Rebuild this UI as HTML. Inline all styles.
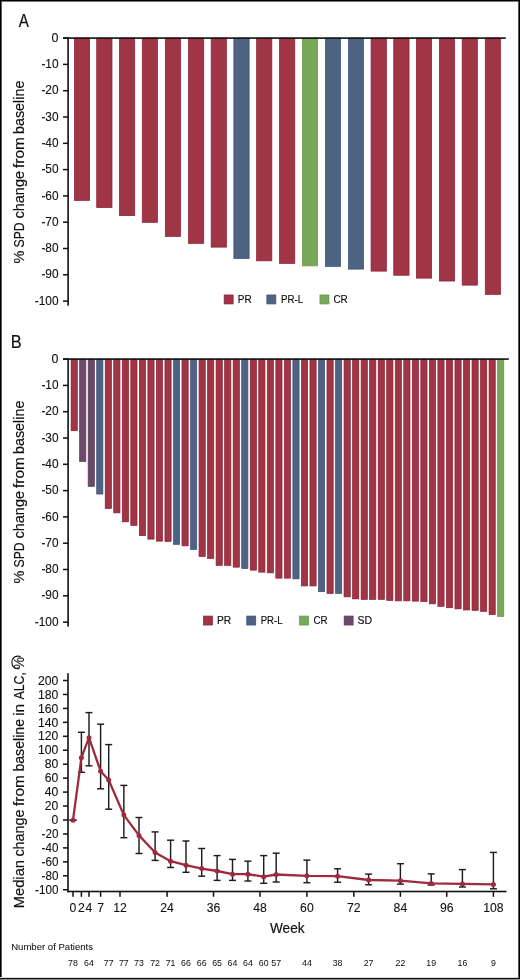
<!DOCTYPE html>
<html><head><meta charset="utf-8"><title>Figure</title>
<style>
html,body{margin:0;padding:0;background:#fff;}
body{width:520px;height:980px;overflow:hidden;position:relative;}
.b{position:absolute;}
svg{position:absolute;left:0;top:0;will-change:transform;}
text{font-family:"Liberation Sans",sans-serif;fill:#111;stroke:#111;stroke-width:0.2px;}
</style></head>
<body>
<svg width="520" height="980" viewBox="0 0 520 980">
<rect x="74.35" y="38.10" width="15.30" height="162.30" fill="#a03545" stroke="#8e1d33" stroke-width="0.7"/>
<rect x="96.70" y="38.10" width="15.30" height="169.45" fill="#a03545" stroke="#8e1d33" stroke-width="0.7"/>
<rect x="119.40" y="38.10" width="15.30" height="177.55" fill="#a03545" stroke="#8e1d33" stroke-width="0.7"/>
<rect x="142.25" y="38.10" width="15.30" height="184.25" fill="#a03545" stroke="#8e1d33" stroke-width="0.7"/>
<rect x="165.30" y="38.10" width="15.30" height="198.25" fill="#a03545" stroke="#8e1d33" stroke-width="0.7"/>
<rect x="188.45" y="38.10" width="15.30" height="205.25" fill="#a03545" stroke="#8e1d33" stroke-width="0.7"/>
<rect x="211.15" y="38.10" width="15.30" height="209.05" fill="#a03545" stroke="#8e1d33" stroke-width="0.7"/>
<rect x="233.85" y="38.10" width="15.30" height="220.55" fill="#4d6381" stroke="#3b5277" stroke-width="0.7"/>
<rect x="256.55" y="38.10" width="15.30" height="222.75" fill="#a03545" stroke="#8e1d33" stroke-width="0.7"/>
<rect x="279.50" y="38.10" width="15.30" height="225.35" fill="#a03545" stroke="#8e1d33" stroke-width="0.7"/>
<rect x="302.35" y="38.10" width="15.30" height="227.75" fill="#79a85b" stroke="#619449" stroke-width="0.7"/>
<rect x="325.35" y="38.10" width="15.30" height="228.35" fill="#4d6381" stroke="#3b5277" stroke-width="0.7"/>
<rect x="348.35" y="38.10" width="15.30" height="231.05" fill="#4d6381" stroke="#3b5277" stroke-width="0.7"/>
<rect x="371.05" y="38.10" width="15.30" height="233.05" fill="#a03545" stroke="#8e1d33" stroke-width="0.7"/>
<rect x="393.75" y="38.10" width="15.30" height="237.15" fill="#a03545" stroke="#8e1d33" stroke-width="0.7"/>
<rect x="416.35" y="38.10" width="15.30" height="240.05" fill="#a03545" stroke="#8e1d33" stroke-width="0.7"/>
<rect x="439.35" y="38.10" width="15.30" height="242.95" fill="#a03545" stroke="#8e1d33" stroke-width="0.7"/>
<rect x="462.15" y="38.10" width="15.30" height="247.05" fill="#a03545" stroke="#8e1d33" stroke-width="0.7"/>
<rect x="485.25" y="38.10" width="15.30" height="256.25" fill="#a03545" stroke="#8e1d33" stroke-width="0.7"/>
<rect x="63" y="37.30" width="442.80" height="1.6" fill="#111"/>
<rect x="67.3" y="37.30" width="1.6" height="268.40" fill="#111"/>
<rect x="63" y="37.35" width="5" height="1.5" fill="#111"/>
<text x="58.5" y="41.75" font-size="12.4" text-anchor="end" style="stroke-width:0.12px">0</text>
<rect x="63" y="63.65" width="5" height="1.5" fill="#111"/>
<text x="58.5" y="68.05" font-size="12.4" text-anchor="end" textLength="17.12" lengthAdjust="spacingAndGlyphs" style="stroke-width:0.12px">-10</text>
<rect x="63" y="89.95" width="5" height="1.5" fill="#111"/>
<text x="58.5" y="94.35" font-size="12.4" text-anchor="end" textLength="17.12" lengthAdjust="spacingAndGlyphs" style="stroke-width:0.12px">-20</text>
<rect x="63" y="116.25" width="5" height="1.5" fill="#111"/>
<text x="58.5" y="120.65" font-size="12.4" text-anchor="end" textLength="17.12" lengthAdjust="spacingAndGlyphs" style="stroke-width:0.12px">-30</text>
<rect x="63" y="142.55" width="5" height="1.5" fill="#111"/>
<text x="58.5" y="146.95" font-size="12.4" text-anchor="end" textLength="17.12" lengthAdjust="spacingAndGlyphs" style="stroke-width:0.12px">-40</text>
<rect x="63" y="168.85" width="5" height="1.5" fill="#111"/>
<text x="58.5" y="173.25" font-size="12.4" text-anchor="end" textLength="17.12" lengthAdjust="spacingAndGlyphs" style="stroke-width:0.12px">-50</text>
<rect x="63" y="195.15" width="5" height="1.5" fill="#111"/>
<text x="58.5" y="199.55" font-size="12.4" text-anchor="end" textLength="17.12" lengthAdjust="spacingAndGlyphs" style="stroke-width:0.12px">-60</text>
<rect x="63" y="221.45" width="5" height="1.5" fill="#111"/>
<text x="58.5" y="225.85" font-size="12.4" text-anchor="end" textLength="17.12" lengthAdjust="spacingAndGlyphs" style="stroke-width:0.12px">-70</text>
<rect x="63" y="247.75" width="5" height="1.5" fill="#111"/>
<text x="58.5" y="252.15" font-size="12.4" text-anchor="end" textLength="17.12" lengthAdjust="spacingAndGlyphs" style="stroke-width:0.12px">-80</text>
<rect x="63" y="274.05" width="5" height="1.5" fill="#111"/>
<text x="58.5" y="278.45" font-size="12.4" text-anchor="end" textLength="17.12" lengthAdjust="spacingAndGlyphs" style="stroke-width:0.12px">-90</text>
<rect x="63" y="300.35" width="5" height="1.5" fill="#111"/>
<text x="58.5" y="304.75" font-size="12.4" text-anchor="end" textLength="23.7" lengthAdjust="spacingAndGlyphs" style="stroke-width:0.12px">-100</text>
<rect x="71.10" y="359.10" width="6.20" height="71.55" fill="#a03545" stroke="#8e1d33" stroke-width="0.7"/>
<rect x="79.63" y="359.10" width="6.20" height="102.35" fill="#6a4a6b" stroke="#583859" stroke-width="0.7"/>
<rect x="88.16" y="359.10" width="6.20" height="127.25" fill="#6a4a6b" stroke="#583859" stroke-width="0.7"/>
<rect x="96.69" y="359.10" width="6.20" height="134.95" fill="#4d6381" stroke="#3b5277" stroke-width="0.7"/>
<rect x="105.22" y="359.10" width="6.20" height="149.35" fill="#a03545" stroke="#8e1d33" stroke-width="0.7"/>
<rect x="113.75" y="359.10" width="6.20" height="153.75" fill="#a03545" stroke="#8e1d33" stroke-width="0.7"/>
<rect x="122.28" y="359.10" width="6.20" height="162.75" fill="#a03545" stroke="#8e1d33" stroke-width="0.7"/>
<rect x="130.81" y="359.10" width="6.20" height="166.35" fill="#a03545" stroke="#8e1d33" stroke-width="0.7"/>
<rect x="139.34" y="359.10" width="6.20" height="176.55" fill="#a03545" stroke="#8e1d33" stroke-width="0.7"/>
<rect x="147.87" y="359.10" width="6.20" height="180.05" fill="#a03545" stroke="#8e1d33" stroke-width="0.7"/>
<rect x="156.40" y="359.10" width="6.20" height="182.05" fill="#a03545" stroke="#8e1d33" stroke-width="0.7"/>
<rect x="164.93" y="359.10" width="6.20" height="182.35" fill="#a03545" stroke="#8e1d33" stroke-width="0.7"/>
<rect x="173.46" y="359.10" width="6.20" height="185.25" fill="#4d6381" stroke="#3b5277" stroke-width="0.7"/>
<rect x="181.99" y="359.10" width="6.20" height="186.75" fill="#a03545" stroke="#8e1d33" stroke-width="0.7"/>
<rect x="190.52" y="359.10" width="6.20" height="190.25" fill="#4d6381" stroke="#3b5277" stroke-width="0.7"/>
<rect x="199.05" y="359.10" width="6.20" height="197.45" fill="#a03545" stroke="#8e1d33" stroke-width="0.7"/>
<rect x="207.58" y="359.10" width="6.20" height="199.35" fill="#a03545" stroke="#8e1d33" stroke-width="0.7"/>
<rect x="216.11" y="359.10" width="6.20" height="206.25" fill="#a03545" stroke="#8e1d33" stroke-width="0.7"/>
<rect x="224.64" y="359.10" width="6.20" height="206.35" fill="#a03545" stroke="#8e1d33" stroke-width="0.7"/>
<rect x="233.17" y="359.10" width="6.20" height="208.05" fill="#a03545" stroke="#8e1d33" stroke-width="0.7"/>
<rect x="241.70" y="359.10" width="6.20" height="209.45" fill="#4d6381" stroke="#3b5277" stroke-width="0.7"/>
<rect x="250.23" y="359.10" width="6.20" height="211.05" fill="#a03545" stroke="#8e1d33" stroke-width="0.7"/>
<rect x="258.76" y="359.10" width="6.20" height="213.05" fill="#a03545" stroke="#8e1d33" stroke-width="0.7"/>
<rect x="267.29" y="359.10" width="6.20" height="213.75" fill="#a03545" stroke="#8e1d33" stroke-width="0.7"/>
<rect x="275.82" y="359.10" width="6.20" height="219.05" fill="#a03545" stroke="#8e1d33" stroke-width="0.7"/>
<rect x="284.35" y="359.10" width="6.20" height="219.05" fill="#a03545" stroke="#8e1d33" stroke-width="0.7"/>
<rect x="292.88" y="359.10" width="6.20" height="219.75" fill="#4d6381" stroke="#3b5277" stroke-width="0.7"/>
<rect x="301.41" y="359.10" width="6.20" height="226.85" fill="#a03545" stroke="#8e1d33" stroke-width="0.7"/>
<rect x="309.94" y="359.10" width="6.20" height="226.85" fill="#a03545" stroke="#8e1d33" stroke-width="0.7"/>
<rect x="318.47" y="359.10" width="6.20" height="232.55" fill="#4d6381" stroke="#3b5277" stroke-width="0.7"/>
<rect x="327.00" y="359.10" width="6.20" height="234.35" fill="#a03545" stroke="#8e1d33" stroke-width="0.7"/>
<rect x="335.53" y="359.10" width="6.20" height="234.35" fill="#4d6381" stroke="#3b5277" stroke-width="0.7"/>
<rect x="344.06" y="359.10" width="6.20" height="237.75" fill="#a03545" stroke="#8e1d33" stroke-width="0.7"/>
<rect x="352.59" y="359.10" width="6.20" height="239.75" fill="#a03545" stroke="#8e1d33" stroke-width="0.7"/>
<rect x="361.12" y="359.10" width="6.20" height="240.25" fill="#a03545" stroke="#8e1d33" stroke-width="0.7"/>
<rect x="369.65" y="359.10" width="6.20" height="240.25" fill="#a03545" stroke="#8e1d33" stroke-width="0.7"/>
<rect x="378.18" y="359.10" width="6.20" height="240.25" fill="#a03545" stroke="#8e1d33" stroke-width="0.7"/>
<rect x="386.71" y="359.10" width="6.20" height="241.35" fill="#a03545" stroke="#8e1d33" stroke-width="0.7"/>
<rect x="395.24" y="359.10" width="6.20" height="241.75" fill="#a03545" stroke="#8e1d33" stroke-width="0.7"/>
<rect x="403.77" y="359.10" width="6.20" height="241.75" fill="#a03545" stroke="#8e1d33" stroke-width="0.7"/>
<rect x="412.30" y="359.10" width="6.20" height="242.05" fill="#a03545" stroke="#8e1d33" stroke-width="0.7"/>
<rect x="420.83" y="359.10" width="6.20" height="242.55" fill="#a03545" stroke="#8e1d33" stroke-width="0.7"/>
<rect x="429.36" y="359.10" width="6.20" height="244.75" fill="#a03545" stroke="#8e1d33" stroke-width="0.7"/>
<rect x="437.89" y="359.10" width="6.20" height="247.25" fill="#a03545" stroke="#8e1d33" stroke-width="0.7"/>
<rect x="446.42" y="359.10" width="6.20" height="248.65" fill="#a03545" stroke="#8e1d33" stroke-width="0.7"/>
<rect x="454.95" y="359.10" width="6.20" height="249.75" fill="#a03545" stroke="#8e1d33" stroke-width="0.7"/>
<rect x="463.48" y="359.10" width="6.20" height="250.85" fill="#a03545" stroke="#8e1d33" stroke-width="0.7"/>
<rect x="472.01" y="359.10" width="6.20" height="251.35" fill="#a03545" stroke="#8e1d33" stroke-width="0.7"/>
<rect x="480.54" y="359.10" width="6.20" height="252.25" fill="#a03545" stroke="#8e1d33" stroke-width="0.7"/>
<rect x="489.07" y="359.10" width="6.20" height="255.45" fill="#a03545" stroke="#8e1d33" stroke-width="0.7"/>
<rect x="497.60" y="359.10" width="6.20" height="257.45" fill="#79a85b" stroke="#619449" stroke-width="0.7"/>
<rect x="63" y="358.30" width="445.80" height="1.6" fill="#111"/>
<rect x="67.3" y="358.30" width="1.6" height="268.40" fill="#111"/>
<rect x="63" y="358.35" width="5" height="1.5" fill="#111"/>
<text x="58.5" y="362.75" font-size="12.4" text-anchor="end" style="stroke-width:0.12px">0</text>
<rect x="63" y="384.65" width="5" height="1.5" fill="#111"/>
<text x="58.5" y="389.05" font-size="12.4" text-anchor="end" textLength="17.12" lengthAdjust="spacingAndGlyphs" style="stroke-width:0.12px">-10</text>
<rect x="63" y="410.95" width="5" height="1.5" fill="#111"/>
<text x="58.5" y="415.35" font-size="12.4" text-anchor="end" textLength="17.12" lengthAdjust="spacingAndGlyphs" style="stroke-width:0.12px">-20</text>
<rect x="63" y="437.25" width="5" height="1.5" fill="#111"/>
<text x="58.5" y="441.65" font-size="12.4" text-anchor="end" textLength="17.12" lengthAdjust="spacingAndGlyphs" style="stroke-width:0.12px">-30</text>
<rect x="63" y="463.55" width="5" height="1.5" fill="#111"/>
<text x="58.5" y="467.95" font-size="12.4" text-anchor="end" textLength="17.12" lengthAdjust="spacingAndGlyphs" style="stroke-width:0.12px">-40</text>
<rect x="63" y="489.85" width="5" height="1.5" fill="#111"/>
<text x="58.5" y="494.25" font-size="12.4" text-anchor="end" textLength="17.12" lengthAdjust="spacingAndGlyphs" style="stroke-width:0.12px">-50</text>
<rect x="63" y="516.15" width="5" height="1.5" fill="#111"/>
<text x="58.5" y="520.55" font-size="12.4" text-anchor="end" textLength="17.12" lengthAdjust="spacingAndGlyphs" style="stroke-width:0.12px">-60</text>
<rect x="63" y="542.45" width="5" height="1.5" fill="#111"/>
<text x="58.5" y="546.85" font-size="12.4" text-anchor="end" textLength="17.12" lengthAdjust="spacingAndGlyphs" style="stroke-width:0.12px">-70</text>
<rect x="63" y="568.75" width="5" height="1.5" fill="#111"/>
<text x="58.5" y="573.15" font-size="12.4" text-anchor="end" textLength="17.12" lengthAdjust="spacingAndGlyphs" style="stroke-width:0.12px">-80</text>
<rect x="63" y="595.05" width="5" height="1.5" fill="#111"/>
<text x="58.5" y="599.45" font-size="12.4" text-anchor="end" textLength="17.12" lengthAdjust="spacingAndGlyphs" style="stroke-width:0.12px">-90</text>
<rect x="63" y="621.35" width="5" height="1.5" fill="#111"/>
<text x="58.5" y="625.75" font-size="12.4" text-anchor="end" textLength="23.7" lengthAdjust="spacingAndGlyphs" style="stroke-width:0.12px">-100</text>
<text transform="translate(24.0,263.62) rotate(-90)" x="0" y="0" font-size="15.2" textLength="12.94" lengthAdjust="spacingAndGlyphs">%</text>
<text transform="translate(24.0,247.46) rotate(-90)" x="0" y="0" font-size="15.2" textLength="25.15" lengthAdjust="spacingAndGlyphs">SPD</text>
<text transform="translate(24.0,218.41) rotate(-90)" x="0" y="0" font-size="15.2" textLength="47.34" lengthAdjust="spacingAndGlyphs">change</text>
<text transform="translate(24.0,168.02) rotate(-90)" x="0" y="0" font-size="15.2" textLength="30.83" lengthAdjust="spacingAndGlyphs">from</text>
<text transform="translate(24.0,133.93) rotate(-90)" x="0" y="0" font-size="15.2" textLength="53.26" lengthAdjust="spacingAndGlyphs">baseline</text>
<text transform="translate(24.0,583.62) rotate(-90)" x="0" y="0" font-size="15.2" textLength="12.94" lengthAdjust="spacingAndGlyphs">%</text>
<text transform="translate(24.0,567.46) rotate(-90)" x="0" y="0" font-size="15.2" textLength="25.15" lengthAdjust="spacingAndGlyphs">SPD</text>
<text transform="translate(24.0,538.41) rotate(-90)" x="0" y="0" font-size="15.2" textLength="47.34" lengthAdjust="spacingAndGlyphs">change</text>
<text transform="translate(24.0,488.02) rotate(-90)" x="0" y="0" font-size="15.2" textLength="30.83" lengthAdjust="spacingAndGlyphs">from</text>
<text transform="translate(24.0,453.93) rotate(-90)" x="0" y="0" font-size="15.2" textLength="53.26" lengthAdjust="spacingAndGlyphs">baseline</text>
<text transform="translate(24.0,908.31) rotate(-90)" x="0" y="0" font-size="15.4" textLength="48.36" lengthAdjust="spacingAndGlyphs">Median</text>
<text transform="translate(24.0,856.60) rotate(-90)" x="0" y="0" font-size="15.4" textLength="47.13" lengthAdjust="spacingAndGlyphs">change</text>
<text transform="translate(24.0,805.92) rotate(-90)" x="0" y="0" font-size="15.4" textLength="30.73" lengthAdjust="spacingAndGlyphs">from</text>
<text transform="translate(24.0,771.62) rotate(-90)" x="0" y="0" font-size="15.4" textLength="52.64" lengthAdjust="spacingAndGlyphs">baseline</text>
<text transform="translate(24.0,715.83) rotate(-90)" x="0" y="0" font-size="15.4" textLength="11.93" lengthAdjust="spacingAndGlyphs">in</text>
<text transform="translate(24.0,699.62) rotate(-90)" x="0" y="0" font-size="15.4" textLength="27.65" lengthAdjust="spacingAndGlyphs">ALC,</text>
<text x="18.87" y="26.6" font-size="18.4" textLength="10.16" lengthAdjust="spacingAndGlyphs" >A</text>
<text x="10.76" y="347.8" font-size="18.4" textLength="10.91" lengthAdjust="spacingAndGlyphs" >B</text>
<rect x="224.15" y="294.95" width="9.0" height="9.0" fill="#a03545" stroke="#8e1d33" stroke-width="0.7"/>
<text x="237.78" y="302.7" font-size="11.6" textLength="13.89" lengthAdjust="spacingAndGlyphs" >PR</text>
<rect x="266.85" y="294.95" width="9.0" height="9.0" fill="#4d6381" stroke="#3b5277" stroke-width="0.7"/>
<text x="281.10" y="302.7" font-size="11.6" textLength="22.12" lengthAdjust="spacingAndGlyphs" >PR-L</text>
<rect x="319.95" y="294.95" width="9.0" height="9.0" fill="#79a85b" stroke="#619449" stroke-width="0.7"/>
<text x="333.39" y="302.7" font-size="11.6" textLength="14.38" lengthAdjust="spacingAndGlyphs" >CR</text>
<rect x="203.45" y="616.05" width="9.0" height="9.0" fill="#a03545" stroke="#8e1d33" stroke-width="0.7"/>
<text x="217.06" y="623.9" font-size="11.6" textLength="14.22" lengthAdjust="spacingAndGlyphs" >PR</text>
<rect x="246.75" y="616.05" width="9.0" height="9.0" fill="#4d6381" stroke="#3b5277" stroke-width="0.7"/>
<text x="260.72" y="623.9" font-size="11.6" textLength="21.80" lengthAdjust="spacingAndGlyphs" >PR-L</text>
<rect x="299.55" y="616.05" width="9.0" height="9.0" fill="#79a85b" stroke="#619449" stroke-width="0.7"/>
<text x="313.40" y="623.9" font-size="11.6" textLength="14.06" lengthAdjust="spacingAndGlyphs" >CR</text>
<rect x="344.15" y="616.05" width="9.0" height="9.0" fill="#6a4a6b" stroke="#583859" stroke-width="0.7"/>
<text x="357.52" y="623.9" font-size="11.6" textLength="14.59" lengthAdjust="spacingAndGlyphs" >SD</text>
<rect x="67.2" y="673.2" width="1.6" height="219.0" fill="#111"/>
<rect x="63" y="679.75" width="5" height="1.5" fill="#111"/>
<text x="58.4" y="684.65" font-size="12.2" text-anchor="end" style="stroke-width:0.1px">200</text>
<rect x="63" y="693.70" width="5" height="1.5" fill="#111"/>
<text x="58.4" y="698.60" font-size="12.2" text-anchor="end" style="stroke-width:0.1px">180</text>
<rect x="63" y="707.65" width="5" height="1.5" fill="#111"/>
<text x="58.4" y="712.55" font-size="12.2" text-anchor="end" style="stroke-width:0.1px">160</text>
<rect x="63" y="721.60" width="5" height="1.5" fill="#111"/>
<text x="58.4" y="726.50" font-size="12.2" text-anchor="end" style="stroke-width:0.1px">140</text>
<rect x="63" y="735.55" width="5" height="1.5" fill="#111"/>
<text x="58.4" y="740.45" font-size="12.2" text-anchor="end" style="stroke-width:0.1px">120</text>
<rect x="63" y="749.50" width="5" height="1.5" fill="#111"/>
<text x="58.4" y="754.40" font-size="12.2" text-anchor="end" style="stroke-width:0.1px">100</text>
<rect x="63" y="763.45" width="5" height="1.5" fill="#111"/>
<text x="58.4" y="768.35" font-size="12.2" text-anchor="end" style="stroke-width:0.1px">80</text>
<rect x="63" y="777.40" width="5" height="1.5" fill="#111"/>
<text x="58.4" y="782.30" font-size="12.2" text-anchor="end" style="stroke-width:0.1px">60</text>
<rect x="63" y="791.35" width="5" height="1.5" fill="#111"/>
<text x="58.4" y="796.25" font-size="12.2" text-anchor="end" style="stroke-width:0.1px">40</text>
<rect x="63" y="805.30" width="5" height="1.5" fill="#111"/>
<text x="58.4" y="810.20" font-size="12.2" text-anchor="end" style="stroke-width:0.1px">20</text>
<rect x="63" y="819.25" width="5" height="1.5" fill="#111"/>
<text x="58.4" y="824.15" font-size="12.2" text-anchor="end" style="stroke-width:0.1px">0</text>
<rect x="63" y="833.20" width="5" height="1.5" fill="#111"/>
<text x="58.4" y="838.10" font-size="12.2" text-anchor="end" textLength="16.84" lengthAdjust="spacingAndGlyphs" style="stroke-width:0.1px">-20</text>
<rect x="63" y="847.15" width="5" height="1.5" fill="#111"/>
<text x="58.4" y="852.05" font-size="12.2" text-anchor="end" textLength="16.84" lengthAdjust="spacingAndGlyphs" style="stroke-width:0.1px">-40</text>
<rect x="63" y="861.10" width="5" height="1.5" fill="#111"/>
<text x="58.4" y="866.00" font-size="12.2" text-anchor="end" textLength="16.84" lengthAdjust="spacingAndGlyphs" style="stroke-width:0.1px">-60</text>
<rect x="63" y="875.05" width="5" height="1.5" fill="#111"/>
<text x="58.4" y="879.95" font-size="12.2" text-anchor="end" textLength="16.84" lengthAdjust="spacingAndGlyphs" style="stroke-width:0.1px">-80</text>
<rect x="63" y="889.00" width="5" height="1.5" fill="#111"/>
<text x="58.4" y="893.90" font-size="12.2" text-anchor="end" textLength="23.32" lengthAdjust="spacingAndGlyphs" style="stroke-width:0.1px">-100</text>
<rect x="67.2" y="890.7" width="439.3" height="1.6" fill="#111"/>
<rect x="72.25" y="891" width="1.5" height="5.8" fill="#111"/>
<text x="73.00" y="911.7" font-size="12.2" text-anchor="middle" style="stroke-width:0.1px">0</text>
<rect x="80.65" y="891" width="1.5" height="5.8" fill="#111"/>
<text x="81.40" y="911.7" font-size="12.2" text-anchor="middle" style="stroke-width:0.1px">2</text>
<rect x="88.25" y="891" width="1.5" height="5.8" fill="#111"/>
<text x="89.00" y="911.7" font-size="12.2" text-anchor="middle" style="stroke-width:0.1px">4</text>
<rect x="99.85" y="891" width="1.5" height="5.8" fill="#111"/>
<text x="100.60" y="911.7" font-size="12.2" text-anchor="middle" style="stroke-width:0.1px">7</text>
<rect x="119.25" y="891" width="1.5" height="5.8" fill="#111"/>
<text x="120.00" y="911.7" font-size="12.2" text-anchor="middle" style="stroke-width:0.1px">12</text>
<rect x="166.35" y="891" width="1.5" height="5.8" fill="#111"/>
<text x="167.10" y="911.7" font-size="12.2" text-anchor="middle" style="stroke-width:0.1px">24</text>
<rect x="212.75" y="891" width="1.5" height="5.8" fill="#111"/>
<text x="213.50" y="911.7" font-size="12.2" text-anchor="middle" style="stroke-width:0.1px">36</text>
<rect x="259.25" y="891" width="1.5" height="5.8" fill="#111"/>
<text x="260.00" y="911.7" font-size="12.2" text-anchor="middle" style="stroke-width:0.1px">48</text>
<rect x="306.15" y="891" width="1.5" height="5.8" fill="#111"/>
<text x="306.90" y="911.7" font-size="12.2" text-anchor="middle" style="stroke-width:0.1px">60</text>
<rect x="353.05" y="891" width="1.5" height="5.8" fill="#111"/>
<text x="353.80" y="911.7" font-size="12.2" text-anchor="middle" style="stroke-width:0.1px">72</text>
<rect x="399.65" y="891" width="1.5" height="5.8" fill="#111"/>
<text x="400.40" y="911.7" font-size="12.2" text-anchor="middle" style="stroke-width:0.1px">84</text>
<rect x="445.95" y="891" width="1.5" height="5.8" fill="#111"/>
<text x="446.70" y="911.7" font-size="12.2" text-anchor="middle" style="stroke-width:0.1px">96</text>
<rect x="492.65" y="891" width="1.5" height="5.8" fill="#111"/>
<text x="493.40" y="911.7" font-size="12.2" text-anchor="middle" style="stroke-width:0.1px">108</text>
<text x="287.3" y="932.7" font-size="15" text-anchor="middle" textLength="34.6" lengthAdjust="spacingAndGlyphs" >Week</text>
<line x1="73.00" y1="820.20" x2="73.00" y2="820.20" stroke="#1c1c1c" stroke-width="1.45"/>
<line x1="69.50" y1="820.20" x2="76.50" y2="820.20" stroke="#1c1c1c" stroke-width="1.45"/>
<line x1="69.50" y1="820.20" x2="76.50" y2="820.20" stroke="#1c1c1c" stroke-width="1.45"/>
<line x1="81.40" y1="732.30" x2="81.40" y2="772.30" stroke="#1c1c1c" stroke-width="1.45"/>
<line x1="77.90" y1="732.30" x2="84.90" y2="732.30" stroke="#1c1c1c" stroke-width="1.45"/>
<line x1="77.90" y1="772.30" x2="84.90" y2="772.30" stroke="#1c1c1c" stroke-width="1.45"/>
<line x1="89.00" y1="712.60" x2="89.00" y2="765.80" stroke="#1c1c1c" stroke-width="1.45"/>
<line x1="85.50" y1="712.60" x2="92.50" y2="712.60" stroke="#1c1c1c" stroke-width="1.45"/>
<line x1="85.50" y1="765.80" x2="92.50" y2="765.80" stroke="#1c1c1c" stroke-width="1.45"/>
<line x1="100.60" y1="724.20" x2="100.60" y2="788.80" stroke="#1c1c1c" stroke-width="1.45"/>
<line x1="97.10" y1="724.20" x2="104.10" y2="724.20" stroke="#1c1c1c" stroke-width="1.45"/>
<line x1="97.10" y1="788.80" x2="104.10" y2="788.80" stroke="#1c1c1c" stroke-width="1.45"/>
<line x1="108.70" y1="744.60" x2="108.70" y2="809.20" stroke="#1c1c1c" stroke-width="1.45"/>
<line x1="105.20" y1="744.60" x2="112.20" y2="744.60" stroke="#1c1c1c" stroke-width="1.45"/>
<line x1="105.20" y1="809.20" x2="112.20" y2="809.20" stroke="#1c1c1c" stroke-width="1.45"/>
<line x1="123.85" y1="785.40" x2="123.85" y2="837.70" stroke="#1c1c1c" stroke-width="1.45"/>
<line x1="120.35" y1="785.40" x2="127.35" y2="785.40" stroke="#1c1c1c" stroke-width="1.45"/>
<line x1="120.35" y1="837.70" x2="127.35" y2="837.70" stroke="#1c1c1c" stroke-width="1.45"/>
<line x1="139.00" y1="817.50" x2="139.00" y2="853.50" stroke="#1c1c1c" stroke-width="1.45"/>
<line x1="135.50" y1="817.50" x2="142.50" y2="817.50" stroke="#1c1c1c" stroke-width="1.45"/>
<line x1="135.50" y1="853.50" x2="142.50" y2="853.50" stroke="#1c1c1c" stroke-width="1.45"/>
<line x1="155.10" y1="831.90" x2="155.10" y2="860.40" stroke="#1c1c1c" stroke-width="1.45"/>
<line x1="151.60" y1="831.90" x2="158.60" y2="831.90" stroke="#1c1c1c" stroke-width="1.45"/>
<line x1="151.60" y1="860.40" x2="158.60" y2="860.40" stroke="#1c1c1c" stroke-width="1.45"/>
<line x1="170.60" y1="840.20" x2="170.60" y2="867.50" stroke="#1c1c1c" stroke-width="1.45"/>
<line x1="167.10" y1="840.20" x2="174.10" y2="840.20" stroke="#1c1c1c" stroke-width="1.45"/>
<line x1="167.10" y1="867.50" x2="174.10" y2="867.50" stroke="#1c1c1c" stroke-width="1.45"/>
<line x1="186.00" y1="841.00" x2="186.00" y2="872.30" stroke="#1c1c1c" stroke-width="1.45"/>
<line x1="182.50" y1="841.00" x2="189.50" y2="841.00" stroke="#1c1c1c" stroke-width="1.45"/>
<line x1="182.50" y1="872.30" x2="189.50" y2="872.30" stroke="#1c1c1c" stroke-width="1.45"/>
<line x1="201.70" y1="848.50" x2="201.70" y2="876.20" stroke="#1c1c1c" stroke-width="1.45"/>
<line x1="198.20" y1="848.50" x2="205.20" y2="848.50" stroke="#1c1c1c" stroke-width="1.45"/>
<line x1="198.20" y1="876.20" x2="205.20" y2="876.20" stroke="#1c1c1c" stroke-width="1.45"/>
<line x1="217.10" y1="855.60" x2="217.10" y2="880.40" stroke="#1c1c1c" stroke-width="1.45"/>
<line x1="213.60" y1="855.60" x2="220.60" y2="855.60" stroke="#1c1c1c" stroke-width="1.45"/>
<line x1="213.60" y1="880.40" x2="220.60" y2="880.40" stroke="#1c1c1c" stroke-width="1.45"/>
<line x1="232.50" y1="859.40" x2="232.50" y2="880.40" stroke="#1c1c1c" stroke-width="1.45"/>
<line x1="229.00" y1="859.40" x2="236.00" y2="859.40" stroke="#1c1c1c" stroke-width="1.45"/>
<line x1="229.00" y1="880.40" x2="236.00" y2="880.40" stroke="#1c1c1c" stroke-width="1.45"/>
<line x1="247.90" y1="861.20" x2="247.90" y2="881.00" stroke="#1c1c1c" stroke-width="1.45"/>
<line x1="244.40" y1="861.20" x2="251.40" y2="861.20" stroke="#1c1c1c" stroke-width="1.45"/>
<line x1="244.40" y1="881.00" x2="251.40" y2="881.00" stroke="#1c1c1c" stroke-width="1.45"/>
<line x1="263.70" y1="855.60" x2="263.70" y2="883.30" stroke="#1c1c1c" stroke-width="1.45"/>
<line x1="260.20" y1="855.60" x2="267.20" y2="855.60" stroke="#1c1c1c" stroke-width="1.45"/>
<line x1="260.20" y1="883.30" x2="267.20" y2="883.30" stroke="#1c1c1c" stroke-width="1.45"/>
<line x1="276.20" y1="853.20" x2="276.20" y2="882.00" stroke="#1c1c1c" stroke-width="1.45"/>
<line x1="272.70" y1="853.20" x2="279.70" y2="853.20" stroke="#1c1c1c" stroke-width="1.45"/>
<line x1="272.70" y1="882.00" x2="279.70" y2="882.00" stroke="#1c1c1c" stroke-width="1.45"/>
<line x1="306.90" y1="860.10" x2="306.90" y2="882.70" stroke="#1c1c1c" stroke-width="1.45"/>
<line x1="303.40" y1="860.10" x2="310.40" y2="860.10" stroke="#1c1c1c" stroke-width="1.45"/>
<line x1="303.40" y1="882.70" x2="310.40" y2="882.70" stroke="#1c1c1c" stroke-width="1.45"/>
<line x1="337.60" y1="868.80" x2="337.60" y2="882.20" stroke="#1c1c1c" stroke-width="1.45"/>
<line x1="334.10" y1="868.80" x2="341.10" y2="868.80" stroke="#1c1c1c" stroke-width="1.45"/>
<line x1="334.10" y1="882.20" x2="341.10" y2="882.20" stroke="#1c1c1c" stroke-width="1.45"/>
<line x1="368.60" y1="874.10" x2="368.60" y2="884.80" stroke="#1c1c1c" stroke-width="1.45"/>
<line x1="365.10" y1="874.10" x2="372.10" y2="874.10" stroke="#1c1c1c" stroke-width="1.45"/>
<line x1="365.10" y1="884.80" x2="372.10" y2="884.80" stroke="#1c1c1c" stroke-width="1.45"/>
<line x1="400.40" y1="863.70" x2="400.40" y2="884.10" stroke="#1c1c1c" stroke-width="1.45"/>
<line x1="396.90" y1="863.70" x2="403.90" y2="863.70" stroke="#1c1c1c" stroke-width="1.45"/>
<line x1="396.90" y1="884.10" x2="403.90" y2="884.10" stroke="#1c1c1c" stroke-width="1.45"/>
<line x1="431.20" y1="873.90" x2="431.20" y2="885.00" stroke="#1c1c1c" stroke-width="1.45"/>
<line x1="427.70" y1="873.90" x2="434.70" y2="873.90" stroke="#1c1c1c" stroke-width="1.45"/>
<line x1="427.70" y1="885.00" x2="434.70" y2="885.00" stroke="#1c1c1c" stroke-width="1.45"/>
<line x1="462.40" y1="869.60" x2="462.40" y2="887.00" stroke="#1c1c1c" stroke-width="1.45"/>
<line x1="458.90" y1="869.60" x2="465.90" y2="869.60" stroke="#1c1c1c" stroke-width="1.45"/>
<line x1="458.90" y1="887.00" x2="465.90" y2="887.00" stroke="#1c1c1c" stroke-width="1.45"/>
<line x1="493.40" y1="852.40" x2="493.40" y2="888.80" stroke="#1c1c1c" stroke-width="1.45"/>
<line x1="489.90" y1="852.40" x2="496.90" y2="852.40" stroke="#1c1c1c" stroke-width="1.45"/>
<line x1="489.90" y1="888.80" x2="496.90" y2="888.80" stroke="#1c1c1c" stroke-width="1.45"/>
<polyline points="73.00,820.20 81.40,757.70 89.00,737.70 100.60,771.20 108.70,780.00 123.85,815.10 139.00,835.40 155.10,852.50 170.60,861.20 186.00,865.20 201.70,868.60 217.10,871.00 232.50,874.20 247.90,874.20 263.70,876.70 276.20,874.50 306.90,875.80 337.60,876.20 368.60,880.00 400.40,880.70 431.20,883.40 462.40,883.90 493.40,884.40" fill="none" stroke="#9e2a3e" stroke-width="2.3" stroke-linejoin="round"/>
<circle cx="73.00" cy="820.20" r="2.5" fill="#9e2a3e"/>
<circle cx="81.40" cy="757.70" r="2.5" fill="#9e2a3e"/>
<circle cx="89.00" cy="737.70" r="2.5" fill="#9e2a3e"/>
<circle cx="100.60" cy="771.20" r="2.5" fill="#9e2a3e"/>
<circle cx="108.70" cy="780.00" r="2.5" fill="#9e2a3e"/>
<circle cx="123.85" cy="815.10" r="2.5" fill="#9e2a3e"/>
<circle cx="139.00" cy="835.40" r="2.5" fill="#9e2a3e"/>
<circle cx="155.10" cy="852.50" r="2.5" fill="#9e2a3e"/>
<circle cx="170.60" cy="861.20" r="2.5" fill="#9e2a3e"/>
<circle cx="186.00" cy="865.20" r="2.5" fill="#9e2a3e"/>
<circle cx="201.70" cy="868.60" r="2.5" fill="#9e2a3e"/>
<circle cx="217.10" cy="871.00" r="2.5" fill="#9e2a3e"/>
<circle cx="232.50" cy="874.20" r="2.5" fill="#9e2a3e"/>
<circle cx="247.90" cy="874.20" r="2.5" fill="#9e2a3e"/>
<circle cx="263.70" cy="876.70" r="2.5" fill="#9e2a3e"/>
<circle cx="276.20" cy="874.50" r="2.5" fill="#9e2a3e"/>
<circle cx="306.90" cy="875.80" r="2.5" fill="#9e2a3e"/>
<circle cx="337.60" cy="876.20" r="2.5" fill="#9e2a3e"/>
<circle cx="368.60" cy="880.00" r="2.5" fill="#9e2a3e"/>
<circle cx="400.40" cy="880.70" r="2.5" fill="#9e2a3e"/>
<circle cx="431.20" cy="883.40" r="2.5" fill="#9e2a3e"/>
<circle cx="462.40" cy="883.90" r="2.5" fill="#9e2a3e"/>
<circle cx="493.40" cy="884.40" r="2.5" fill="#9e2a3e"/>
<g transform="translate(19.3,663.1) rotate(-90)"><text x="0" y="0" font-size="13.8" text-anchor="middle" dominant-baseline="central">%</text></g>
<path d="M20.6,656.6 C16,655 12,657.5 11.9,662.5 C11.9,667 15,669.5 19.5,668.6" fill="none" stroke="#111" stroke-width="1.1"/>
<text x="11.2" y="950.0" font-size="9.8" text-anchor="start" textLength="81.8" lengthAdjust="spacingAndGlyphs" style="stroke-width:0.05px">Number of Patients</text>
<text x="73.00" y="965.6" font-size="8.8" text-anchor="middle" style="stroke-width:0.02px">78</text>
<text x="89.00" y="965.6" font-size="8.8" text-anchor="middle" style="stroke-width:0.02px">64</text>
<text x="108.70" y="965.6" font-size="8.8" text-anchor="middle" style="stroke-width:0.02px">77</text>
<text x="123.85" y="965.6" font-size="8.8" text-anchor="middle" style="stroke-width:0.02px">77</text>
<text x="139.00" y="965.6" font-size="8.8" text-anchor="middle" style="stroke-width:0.02px">73</text>
<text x="155.10" y="965.6" font-size="8.8" text-anchor="middle" style="stroke-width:0.02px">72</text>
<text x="170.60" y="965.6" font-size="8.8" text-anchor="middle" style="stroke-width:0.02px">71</text>
<text x="186.00" y="965.6" font-size="8.8" text-anchor="middle" style="stroke-width:0.02px">66</text>
<text x="201.70" y="965.6" font-size="8.8" text-anchor="middle" style="stroke-width:0.02px">66</text>
<text x="217.10" y="965.6" font-size="8.8" text-anchor="middle" style="stroke-width:0.02px">65</text>
<text x="232.50" y="965.6" font-size="8.8" text-anchor="middle" style="stroke-width:0.02px">64</text>
<text x="247.90" y="965.6" font-size="8.8" text-anchor="middle" style="stroke-width:0.02px">64</text>
<text x="263.70" y="965.6" font-size="8.8" text-anchor="middle" style="stroke-width:0.02px">60</text>
<text x="276.20" y="965.6" font-size="8.8" text-anchor="middle" style="stroke-width:0.02px">57</text>
<text x="306.90" y="965.6" font-size="8.8" text-anchor="middle" style="stroke-width:0.02px">44</text>
<text x="337.60" y="965.6" font-size="8.8" text-anchor="middle" style="stroke-width:0.02px">38</text>
<text x="368.60" y="965.6" font-size="8.8" text-anchor="middle" style="stroke-width:0.02px">27</text>
<text x="400.40" y="965.6" font-size="8.8" text-anchor="middle" style="stroke-width:0.02px">22</text>
<text x="431.20" y="965.6" font-size="8.8" text-anchor="middle" style="stroke-width:0.02px">19</text>
<text x="462.40" y="965.6" font-size="8.8" text-anchor="middle" style="stroke-width:0.02px">16</text>
<text x="493.40" y="965.6" font-size="8.8" text-anchor="middle" style="stroke-width:0.02px">9</text>
</svg>
<div class="b" style="left:0;top:0;width:520px;height:1px;background:#000"></div>
<div class="b" style="left:0;top:1px;width:520px;height:1px;background:#767676"></div>
<div class="b" style="left:0;top:0;width:1px;height:980px;background:#000"></div>
<div class="b" style="left:1px;top:1px;width:1px;height:978px;background:#5a5a5a"></div>
<div class="b" style="left:519px;top:0;width:1px;height:980px;background:#000"></div>
<div class="b" style="left:518px;top:1px;width:1px;height:978px;background:#555"></div>
<div class="b" style="left:0;top:977px;width:518px;height:1px;background:#d8d8d8"></div>
<div class="b" style="left:0;top:978px;width:520px;height:1px;background:#111"></div>
<div class="b" style="left:0;top:979px;width:520px;height:1px;background:#888"></div>
</body></html>
